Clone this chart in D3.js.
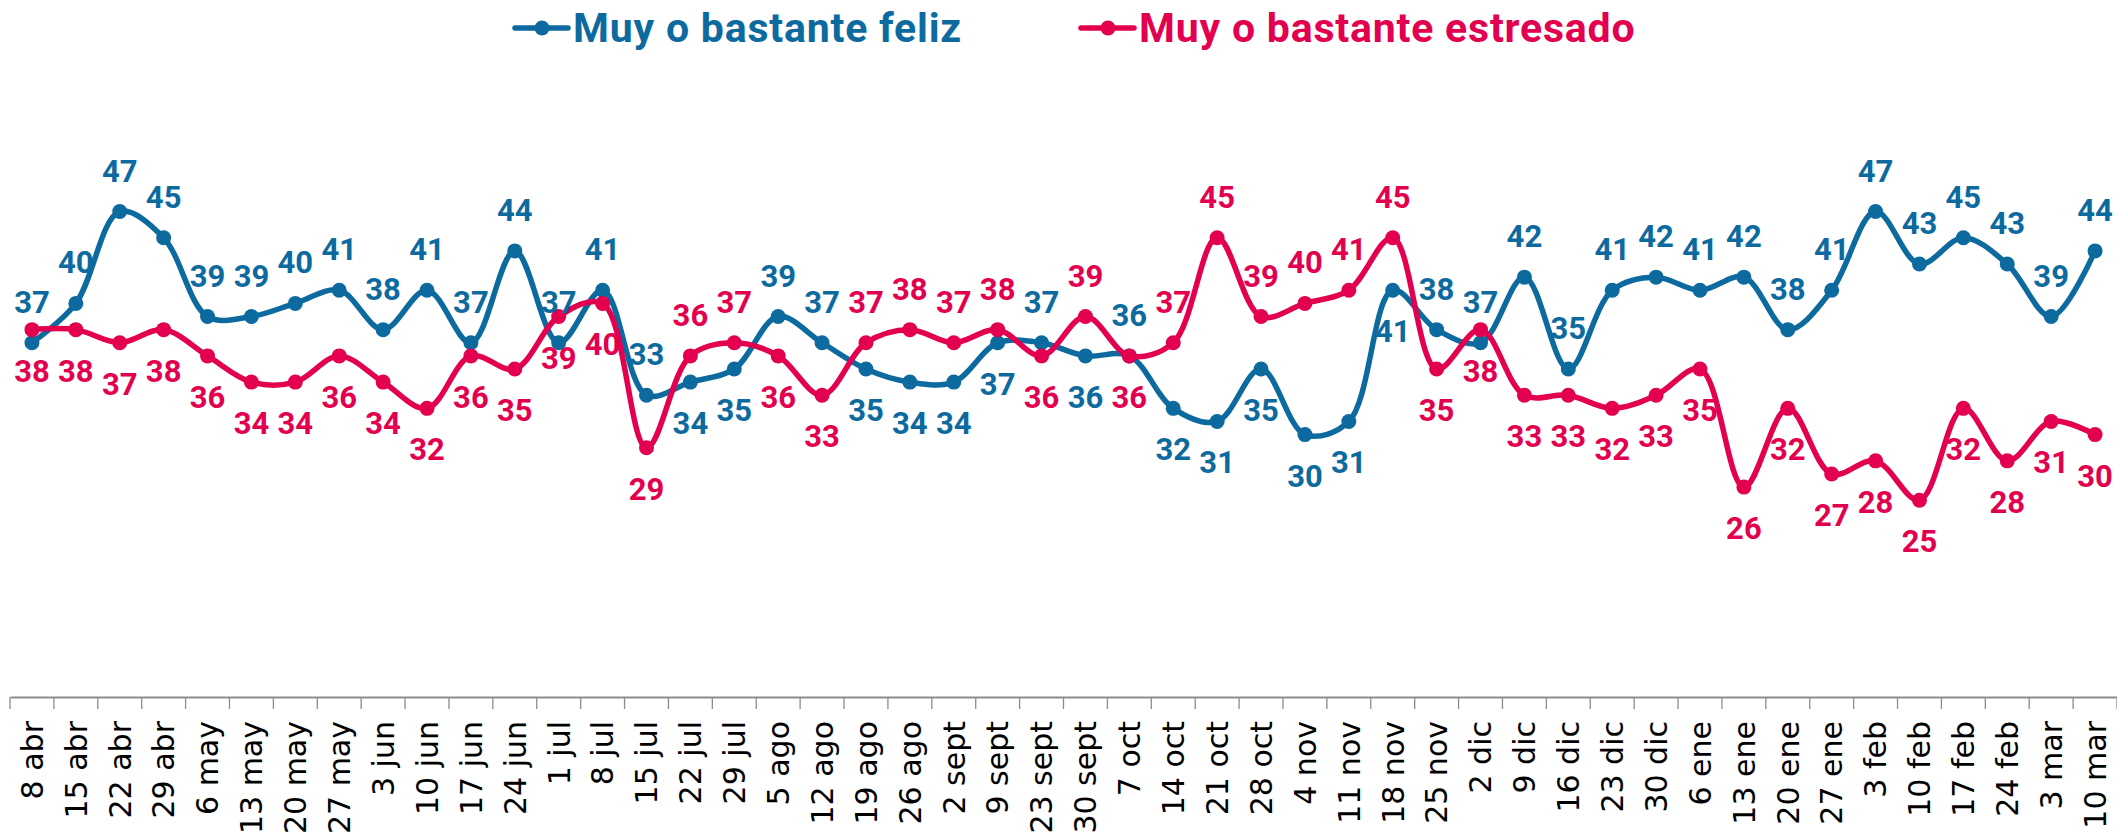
<!DOCTYPE html>
<html>
<head>
<meta charset="utf-8">
<script src="https://cdnjs.cloudflare.com/ajax/libs/d3/7.8.5/d3.min.js"></script>
<style>
  body { margin: 0; background: #fff; }
  svg { display: block; }
</style>
</head>
<body>
<div id="chart"></div>
<script>
// weekly survey, % of respondents
const weeks = ["8 abr", "15 abr", "22 abr", "29 abr", "6 may", "13 may", "20 may", "27 may",
  "3 jun", "10 jun", "17 jun", "24 jun", "1 jul", "8 jul", "15 jul", "22 jul", "29 jul",
  "5 ago", "12 ago", "19 ago", "26 ago", "2 sept", "9 sept", "23 sept", "30 sept",
  "7 oct", "14 oct", "21 oct", "28 oct", "4 nov", "11 nov", "18 nov", "25 nov",
  "2 dic", "9 dic", "16 dic", "23 dic", "30 dic", "6 ene", "13 ene", "20 ene", "27 ene",
  "3 feb", "10 feb", "17 feb", "24 feb", "3 mar", "10 mar"];

const feliz = [37, 40, 47, 45, 39, 39, 40, 41, 38, 41, 37, 44, 37, 41, 33, 34, 35,
  39, 37, 35, 34, 34, 37, 37, 36, 36, 32, 31, 35, 30, 31, 41, 38,
  37, 42, 35, 41, 42, 41, 42, 38, 41, 47, 43, 45, 43, 39, 44];

const estresado = [38, 38, 37, 38, 36, 34, 34, 36, 34, 32, 36, 35, 39, 40, 29, 36, 37,
  36, 33, 37, 38, 37, 38, 36, 39, 36, 37, 45, 39, 40, 41, 45, 35,
  38, 33, 33, 32, 33, 35, 26, 32, 27, 28, 25, 32, 28, 31, 30];

const seriesNames = ["Muy o bastante feliz", "Muy o bastante estresado"];

// where each value label sits: a = above the point, b = below
const felizSide = ("aaaaaaaaaaaaaaa" + "bbaabbbb" + "aba" + "bbbbbb" + "aaaaaaaaaaaaaaaa").split("");
const estresadoSide = ("bbbbbbbbbbbbbbb" + "aabbaaaa" + "bab" + "aaaaaa" + "bbbbbbbbbbbbbbbb").split("");

const width = 2117, height = 840;
const blue = "#0c6a9f", red = "#e2004f";

const svg = d3.select("#chart").append("svg")
  .attr("width", width)
  .attr("height", height);

const x = d3.scaleBand().domain(weeks).range([10, 2117]);
const y = d3.scaleLinear().domain([10, 60]).range([697, 41]);
const cx = d => x(d) + x.bandwidth() / 2;

// axis
const xAxis = d3.axisBottom(x).tickSize(0).tickPadding(0);
const gx = svg.append("g")
  .attr("transform", "translate(0,697)")
  .call(xAxis);
gx.select(".domain").attr("stroke", "#8c8c8c").attr("stroke-width", 2);
gx.selectAll(".tick text")
  .attr("transform", "rotate(-90)")
  .attr("x", -24)
  .attr("y", 0)
  .attr("dy", "0.36em")
  .attr("text-anchor", "end")
  .style("font-family", "DejaVu Sans")
  .style("font-size", "30px")
  .attr("fill", "#000");

// tick marks between categories
svg.append("g").selectAll("line")
  .data(d3.range(weeks.length + 1))
  .join("line")
    .attr("x1", i => 10 + i * x.step())
    .attr("x2", i => 10 + i * x.step())
    .attr("y1", 697)
    .attr("y2", 709)
    .attr("stroke", "#8c8c8c")
    .attr("stroke-width", 1.3);

const line = d3.line()
  .x((d, i) => cx(weeks[i]))
  .y(d => y(d))
  .curve(d3.curveCatmullRom.alpha(0.5));

function drawSeries(values, color) {
  const g = svg.append("g");
  g.append("path")
    .datum(values)
    .attr("d", line)
    .attr("fill", "none")
    .attr("stroke", color)
    .attr("stroke-width", 5.5)
    .attr("stroke-linejoin", "round");
  g.selectAll("circle")
    .data(values)
    .join("circle")
      .attr("cx", (d, i) => cx(weeks[i]))
      .attr("cy", d => y(d))
      .attr("r", 7.5)
      .attr("fill", color);
}

function drawLabels(values, sides, color) {
  svg.append("g").selectAll("text")
    .data(values)
    .join("text")
      .attr("x", (d, i) => cx(weeks[i]))
      .attr("y", (d, i) => sides[i] === "a" ? y(d) - 30 : y(d) + 52)
      .attr("text-anchor", "middle")
      .style("font-family", "Roboto")
      .style("font-weight", "700")
      .style("font-size", "31px")
      .attr("fill", color)
      .text(d => d);
}

drawSeries(feliz, blue);
drawSeries(estresado, red);
drawLabels(feliz, felizSide, blue);
drawLabels(estresado, estresadoSide, red);

// legend
const legend = [
  {name: seriesNames[0], color: blue, x: 515},
  {name: seriesNames[1], color: red, x: 1081}
];
const lg = svg.append("g").selectAll("g")
  .data(legend)
  .join("g")
    .attr("transform", d => "translate(" + d.x + ",28)");
lg.append("line")
  .attr("x1", 0).attr("x2", 53)
  .attr("stroke", d => d.color)
  .attr("stroke-width", 5.5)
  .attr("stroke-linecap", "round");
lg.append("circle")
  .attr("cx", 27)
  .attr("r", 7.5)
  .attr("fill", d => d.color);
lg.append("text")
  .attr("x", 58)
  .attr("y", 14)
  .style("font-family", "Roboto")
  .style("font-weight", "700")
  .style("font-size", "41px")
  .style("letter-spacing", "0.8px")
  .attr("fill", d => d.color)
  .text(d => d.name);
</script>
</body>
</html>
